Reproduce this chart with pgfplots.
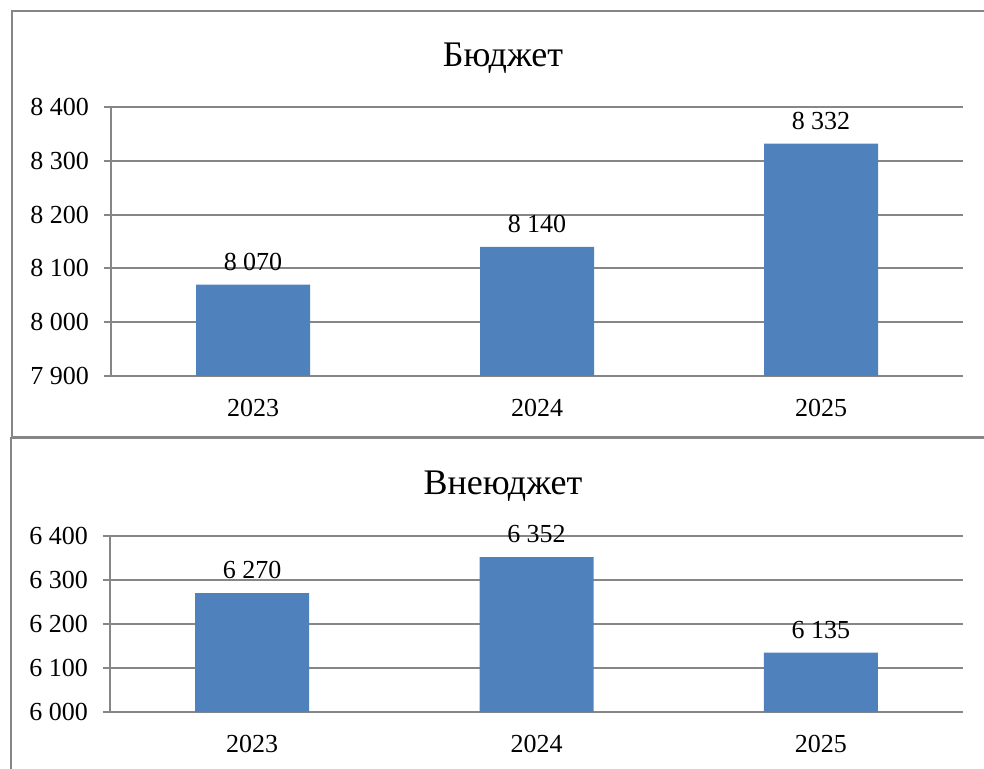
\documentclass[border=0pt]{standalone}
\usepackage{fontspec}
\setmainfont{Liberation Serif}
\usepackage{pgfplots}
\pgfplotsset{compat=1.18}
\definecolor{barblue}{HTML}{4F81BD}
\definecolor{axgray}{HTML}{868686}

\pgfplotsset{
  budget/.style={
    scale only axis,
    anchor=south west,
    axis y line*=left,
    axis x line*=bottom,
    axis line style={axgray, line width=1pt},
    ymajorgrids,
    major grid style={axgray, line width=1pt},
    xmin=-0.5, xmax=2.5,
    xtick={0,1,2},
    xticklabels={2023,2024,2025},
    xtick style={draw=none},
    extra x ticks={-0.5,0.5,1.5,2.5},
    extra x tick labels={},
    extra x tick style={tick style={axgray, line width=1pt}, major tick length=3.5pt, tick align=outside, grid=none},
    ytick style={axgray, line width=1pt},
    major tick length=3.5pt,
    tick align=outside,
    /pgf/number format/assume math mode=true,
    /pgf/number format/1000 sep={\ },
    tick label style={font=\fontsize{13}{15}\selectfont},
    yticklabel style={xshift=-4pt},
    xticklabel style={yshift=-4.5pt},
    ybar, bar width=57pt,
    clip=false,
    nodes near coords,
    nodes near coords style={font=\fontsize{13}{15}\selectfont, yshift=3.5pt,
      /pgf/number format/1000 sep={\ }, /pgf/number format/assume math mode=true},
  }
}

\begin{document}
\begin{tikzpicture}
\useasboundingbox (0pt,0pt) rectangle (492pt,-384.5pt);
\draw[axgray, line width=0.75pt] (6pt,-5.5pt) rectangle (500pt,-218.5pt);
\draw[axgray, line width=0.75pt] (5.5pt,-219pt) rectangle (500pt,-392pt);
\node[font=\fontsize{18}{21}\selectfont] at (251.5pt,-29pt) {Бюджет};
\node[font=\fontsize{18}{21}\selectfont] at (251.5pt,-243pt) {Внеюджет};

\begin{axis}[budget, at={(55.5pt,-188pt)}, width=426pt, height=134.5pt,
  ymin=7900, ymax=8400, ytick={7900,8000,...,8400}]
\addplot[fill=barblue, draw=none] coordinates {(0,8070) (1,8140) (2,8332)};
\end{axis}

\begin{axis}[budget, at={(55pt,-356pt)}, width=426.5pt, height=88pt,
  ymin=6000, ymax=6400, ytick={6000,6100,...,6400}]
\addplot[fill=barblue, draw=none] coordinates {(0,6270) (1,6352) (2,6135)};
\end{axis}
\end{tikzpicture}
\end{document}
